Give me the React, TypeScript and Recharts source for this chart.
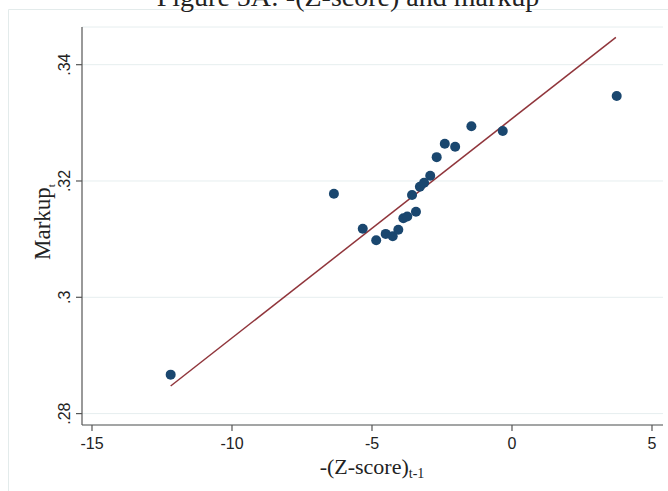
import React from 'react';
import { ScatterChart, Scatter, XAxis, YAxis, CartesianGrid } from 'recharts';

// -(Z-score)_{t-1} (x) and Markup_t (y)
const zScoreNeg = [-12.19, -6.36, -5.33, -4.85, -4.51, -4.26, -4.06, -3.88, -3.74, -3.43, -3.57, -3.29, -3.14, -2.92, -2.69, -2.40, -2.03, -1.45, -0.33, 3.74];
const markup = [0.2867, 0.3178, 0.3118, 0.3098, 0.3109, 0.3105, 0.3116, 0.3136, 0.3139, 0.3147, 0.3176, 0.3190, 0.3197, 0.3209, 0.3241, 0.3264, 0.3259, 0.3294, 0.3286, 0.3346];

// fitted line endpoints
const fitX = [-12.19, 3.71];
const fitY = [0.28475, 0.34471];

const xTicks = [-15, -10, -5, 0, 5];
const yTicks = [0.28, 0.30, 0.32, 0.34];
const yTickLabels = ['.28', '.3', '.32', '.34'];

const title = 'Figure 5A: -(Z-score) and markup';
const xLabelMain = '-(Z-score)';
const xLabelSub = 't-1';
const yLabelMain = 'Markup';
const yLabelSub = 't';

const points = zScoreNeg.map((x, i) => ({ x, y: markup[i] }));
const fitData = fitX.map((x, i) => ({ x, y: fitY[i] }));

const W = 668;
const H = 491;
const SANS = '"Liberation Sans", Arial, sans-serif';
const SERIF = '"Liberation Serif", "Times New Roman", serif';
const AXIS = '#555';
const TEXT = '#222';

const YTick = (props: any) => {
  const { x, y, index } = props;
  return (
    <text
      x={x}
      y={y}
      transform={`rotate(-90 ${x} ${y})`}
      textAnchor="middle"
      fontSize={16}
      fontFamily={SANS}
      fill={TEXT}
    >
      {yTickLabels[index]}
    </text>
  );
};

const XLabel = () => (
  <text x={372} y={474} textAnchor="middle" fontFamily={SERIF} fill={TEXT}>
    <tspan fontSize={22}>{xLabelMain}</tspan>
    <tspan fontSize={14} dy={4}>{xLabelSub}</tspan>
  </text>
);

const YLabel = () => (
  <text
    x={50}
    y={222}
    transform={`rotate(-90 50 222)`}
    textAnchor="middle"
    fontFamily={SERIF}
    fill={TEXT}
  >
    <tspan fontSize={23}>{yLabelMain}</tspan>
    <tspan fontSize={11} dy={5}>{yLabelSub}</tspan>
  </text>
);

export default function App() {
  return (
    <div style={{ position: 'absolute', left: 0, top: 0, width: W, height: H, background: '#fff' }}>
      <svg width={W} height={H} style={{ position: 'absolute', left: 0, top: 0 }}>
        <line x1={8.5} y1={9.5} x2={8.5} y2={H} stroke="#e3ebeb" strokeWidth={1} />
        <line x1={8.5} y1={9.5} x2={W} y2={9.5} stroke="#e3ebeb" strokeWidth={1} />
        <text x={348} y={6} textAnchor="middle" fontFamily={SERIF} fontSize={28} fill={TEXT}>
          {title}
        </text>
      </svg>
      <div style={{ position: 'absolute', left: 0, top: 0 }}>
        <ScatterChart width={W} height={H} margin={{ top: 27, right: 5, bottom: 0, left: 0 }}>
          <CartesianGrid horizontal vertical={false} stroke="#e6eeef" strokeWidth={1} />
          <XAxis
            type="number"
            dataKey="x"
            domain={[-15.357, 5.393]}
            allowDataOverflow
            ticks={xTicks}
            interval={0}
            height={66}
            tickSize={6}
            tickMargin={7}
            axisLine={{ stroke: AXIS, strokeWidth: 1.2 }}
            tickLine={{ stroke: AXIS, strokeWidth: 1.2 }}
            tick={{ fill: TEXT, fontSize: 16, fontFamily: SANS }}
            label={<XLabel />}
          />
          <YAxis
            type="number"
            dataKey="y"
            domain={[0.27804, 0.34648]}
            allowDataOverflow
            ticks={yTicks}
            interval={0}
            width={82}
            tickSize={6}
            tickMargin={6}
            axisLine={{ stroke: AXIS, strokeWidth: 1.2 }}
            tickLine={{ stroke: AXIS, strokeWidth: 1.2 }}
            tick={<YTick />}
            label={<YLabel />}
          />
          <Scatter
            data={fitData}
            line={{ stroke: '#90353b', strokeWidth: 1.5 }}
            shape={() => <g />}
            isAnimationActive={false}
          />
          <Scatter data={points} fill="#1a476f" isAnimationActive={false} shape={(p: any) => <circle cx={p.cx} cy={p.cy} r={5} fill="#1a476f" />} />
        </ScatterChart>
      </div>
    </div>
  );
}
